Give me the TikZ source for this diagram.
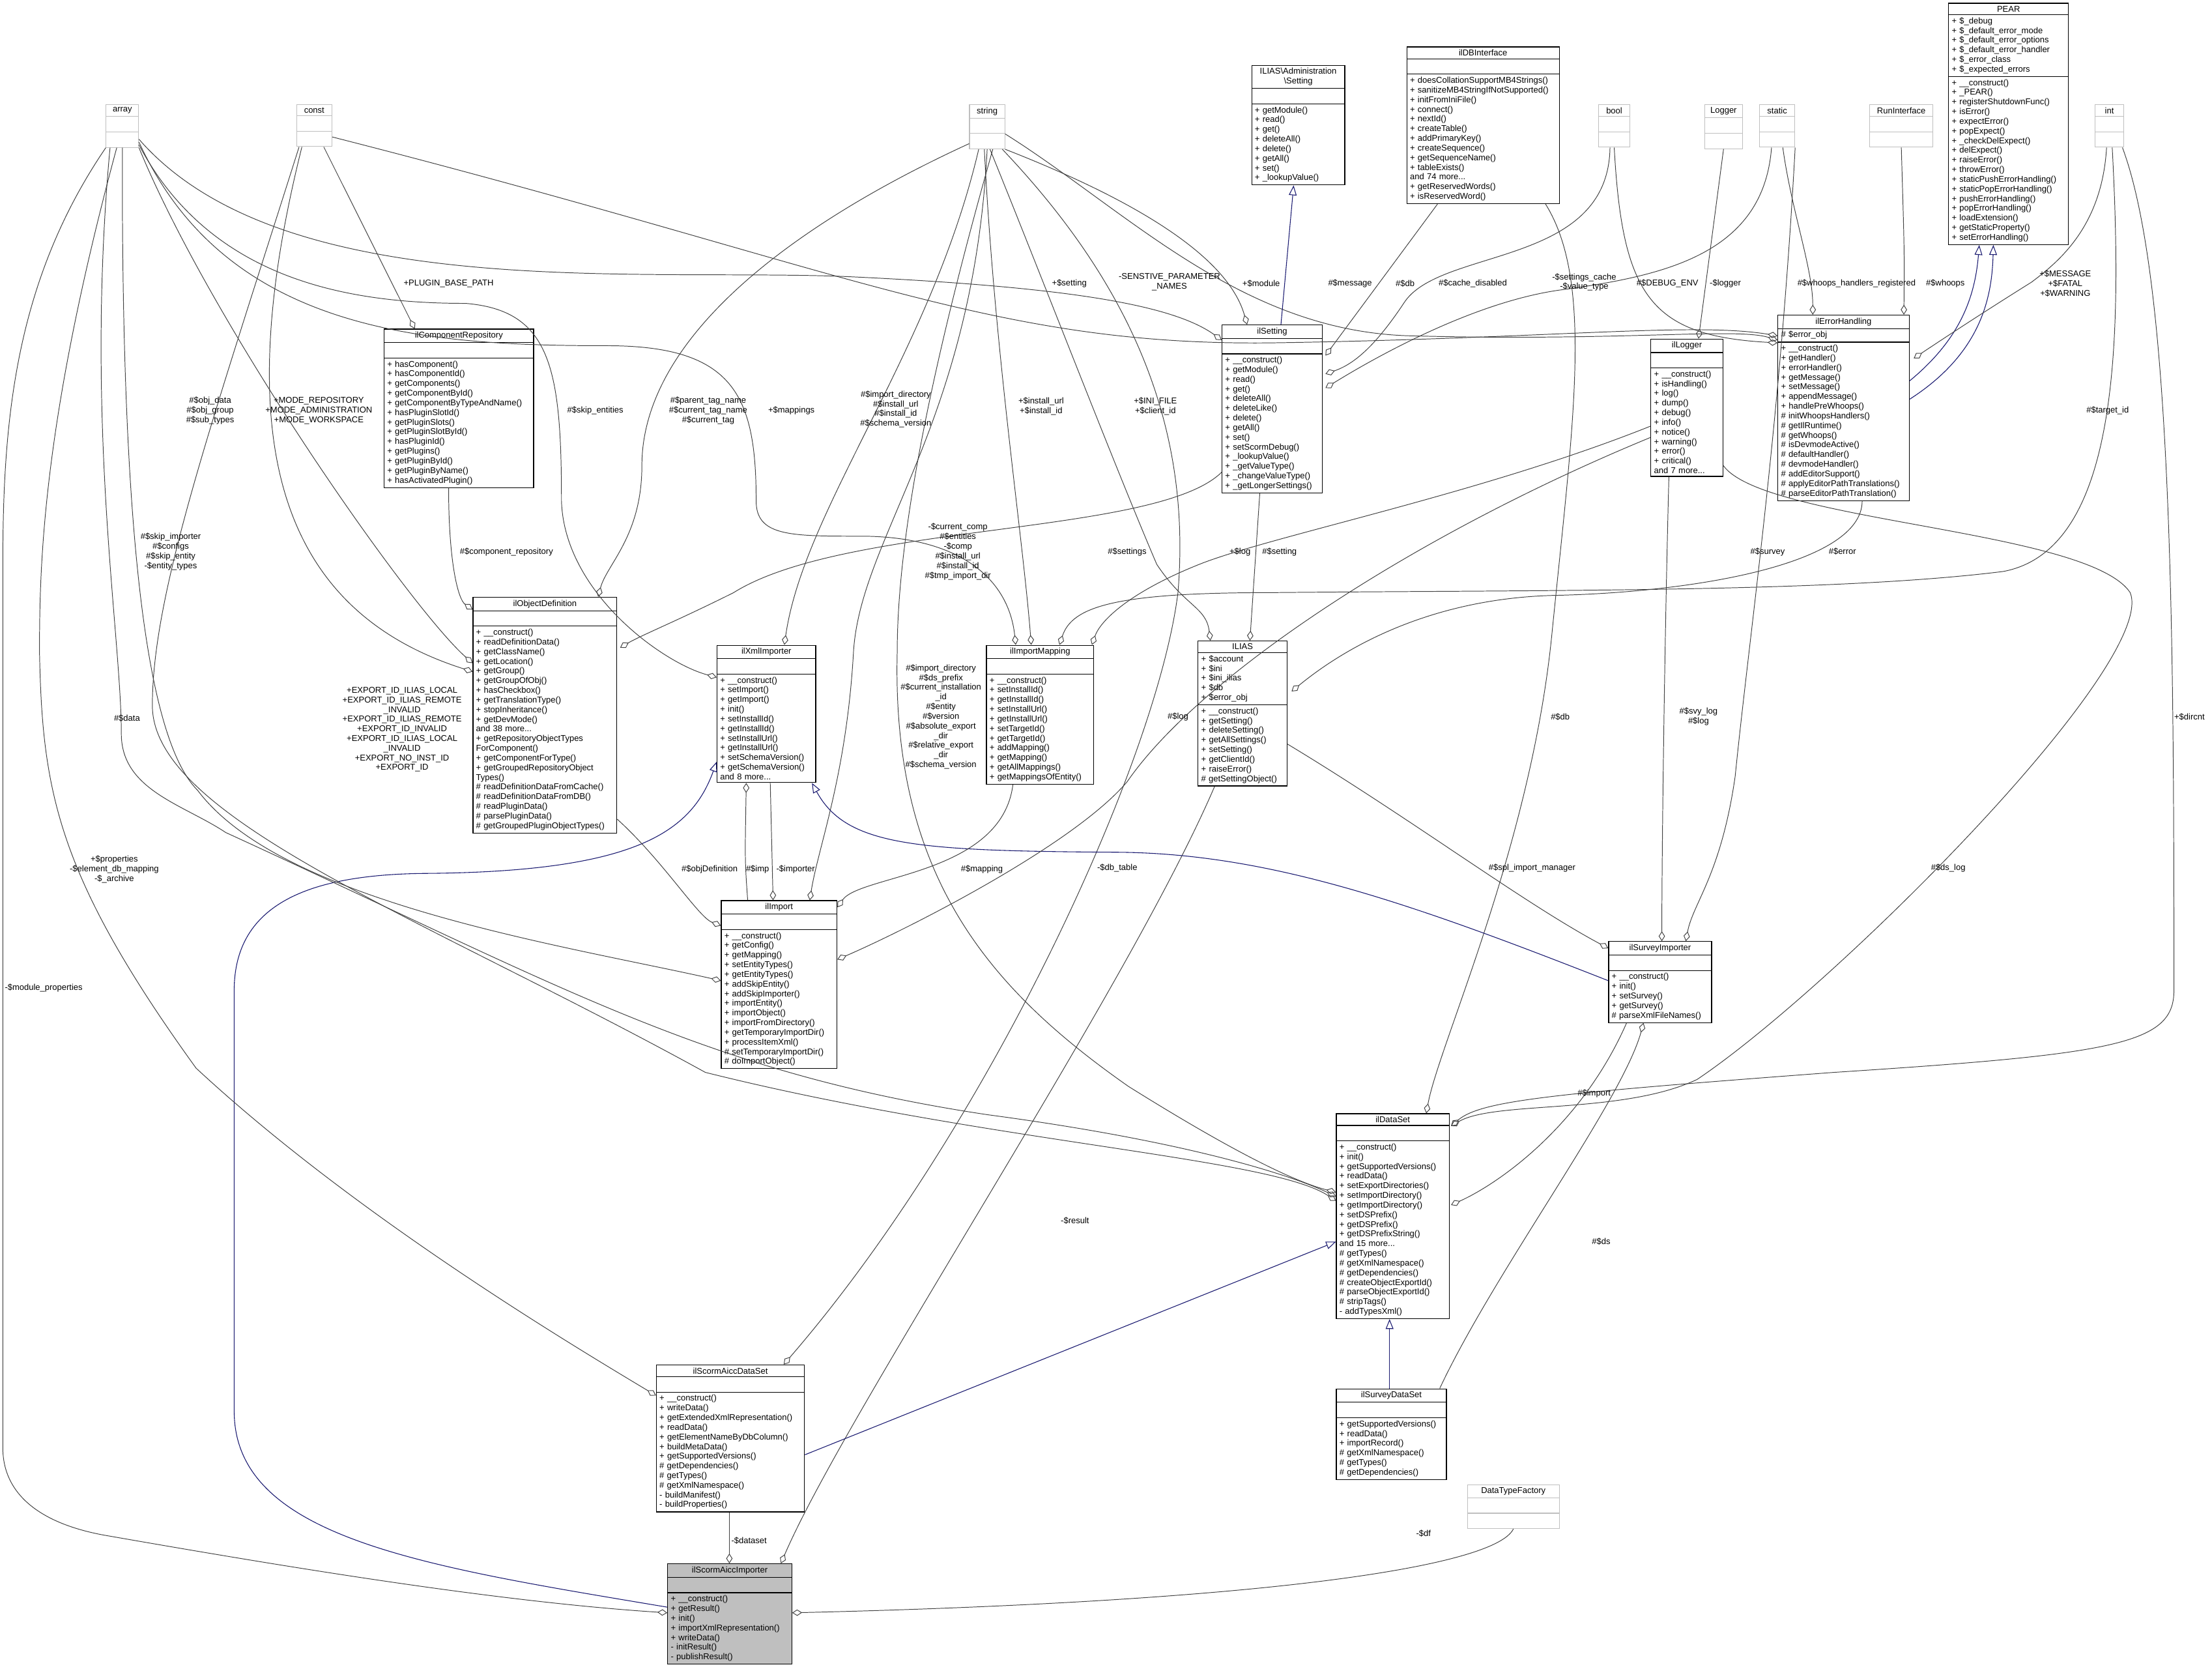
\documentclass[tikz,border=0pt]{standalone}
\usepackage{fontspec}
\setmainfont{Liberation Sans}
\usetikzlibrary{shapes.multipart,arrows.meta,calc}
\definecolor{navy}{HTML}{191970}
\definecolor{edgec}{HTML}{404040}
\newcommand\emptycomp{\rule{0pt}{7pt}}
\newcommand\hd[1]{\makebox[\linewidth][c]{#1}}
\tikzset{
 cls/.style={rectangle split, rectangle split parts=3, draw=black, line width=0.55pt, anchor=north west,
   inner xsep=2.2pt, inner ysep=1.7pt, font=\fontsize{6}{6.85}\selectfont, text width=#1pt-4.4pt, align=left},
 typ/.style={cls=#1, draw=gray!50, line width=0.5pt},
 agg/.style={draw=edgec, line width=0.45pt, -{Diamond[open,length=7pt,width=4.5pt]}},
 inh/.style={draw=navy, line width=0.5pt, -{Triangle[open,length=7pt,width=5.5pt]}},
 lbl/.style={font=\fontsize{6}{6.85}\selectfont, align=center, inner sep=0pt}
}
\begin{document}
\begin{tikzpicture}[x=1pt,y=-1pt]
\useasboundingbox (0,0) rectangle (1568,1181);
% type boxes
\node[typ=23] (array) at (75,74) {\hd{array}\nodepart{two}\emptycomp\nodepart{three}\emptycomp};
\node[typ=25] (const) at (210,74) {\hd{const}\nodepart{two}\emptycomp\nodepart{three}\emptycomp};
\node[typ=25] (string) at (687,74) {\hd{string}\nodepart{two}\emptycomp\nodepart{three}\emptycomp};
\node[typ=22] (bool) at (1133,74) {\hd{bool}\nodepart{two}\emptycomp\nodepart{three}\emptycomp};
\node[typ=27] (Logger) at (1208,74) {\hd{Logger}\nodepart{two}\emptycomp\nodepart{three}\emptycomp};
\node[typ=25] (static) at (1247,74) {\hd{static}\nodepart{two}\emptycomp\nodepart{three}\emptycomp};
\node[typ=45] (RunInterface) at (1325,74) {\hd{RunInterface}\nodepart{two}\emptycomp\nodepart{three}\emptycomp};
\node[typ=20] (int) at (1485,74) {\hd{int}\nodepart{two}\emptycomp\nodepart{three}\emptycomp};
\node[typ=65] (DataTypeFactory) at (1040,1052) {\hd{DataTypeFactory}\nodepart{two}\emptycomp\nodepart{three}\emptycomp};
% classes
\node[cls=66] (admin) at (887,46) {\hd{ILIAS\textbackslash{}Administration}\\\hd{\textbackslash{}Setting}\nodepart{two}\emptycomp\nodepart{three}+ getModule()\\+ read()\\+ get()\\+ deleteAll()\\+ delete()\\+ getAll()\\+ set()\\+ \_lookupValue()};
\node[cls=108] (ilDBInterface) at (997,33) {\hd{ilDBInterface}\nodepart{two}\emptycomp\nodepart{three}+ doesCollationSupportMB4Strings()\\+ sanitizeMB4StringIfNotSupported()\\+ initFromIniFile()\\+ connect()\\+ nextId()\\+ createTable()\\+ addPrimaryKey()\\+ createSequence()\\+ getSequenceName()\\+ tableExists()\\and 74 more...\\+ getReservedWords()\\+ isReservedWord()};
\node[cls=85] (PEAR) at (1381,2) {\hd{PEAR}\nodepart{two}+ \$\_debug\\+ \$\_default\_error\_mode\\+ \$\_default\_error\_options\\+ \$\_default\_error\_handler\\+ \$\_error\_class\\+ \$\_expected\_errors\nodepart{three}+ \_\_construct()\\+ \_PEAR()\\+ registerShutdownFunc()\\+ isError()\\+ expectError()\\+ popExpect()\\+ \_checkDelExpect()\\+ delExpect()\\+ raiseError()\\+ throwError()\\+ staticPushErrorHandling()\\+ staticPopErrorHandling()\\+ pushErrorHandling()\\+ popErrorHandling()\\+ loadExtension()\\+ getStaticProperty()\\+ setErrorHandling()};
\node[cls=93] (ilErrorHandling) at (1260,223) {\hd{ilErrorHandling}\nodepart{two}\# \$error\_obj\nodepart{three}+ \_\_construct()\\+ getHandler()\\+ errorHandler()\\+ getMessage()\\+ setMessage()\\+ appendMessage()\\+ handlePreWhoops()\\\# initWhoopsHandlers()\\\# getIlRuntime()\\\# getWhoops()\\\# isDevmodeActive()\\\# defaultHandler()\\\# devmodeHandler()\\\# addEditorSupport()\\\# applyEditorPathTranslations()\\\# parseEditorPathTranslation()};
\node[cls=51] (ilLogger) at (1170,240) {\hd{ilLogger}\nodepart{two}\emptycomp\nodepart{three}+ \_\_construct()\\+ isHandling()\\+ log()\\+ dump()\\+ debug()\\+ info()\\+ notice()\\+ warning()\\+ error()\\+ critical()\\and 7 more...};
\node[cls=71] (ilSetting) at (866,230) {\hd{ilSetting}\nodepart{two}\emptycomp\nodepart{three}+ \_\_construct()\\+ getModule()\\+ read()\\+ get()\\+ deleteAll()\\+ deleteLike()\\+ delete()\\+ getAll()\\+ set()\\+ setScormDebug()\\+ \_lookupValue()\\+ \_getValueType()\\+ \_changeValueType()\\+ \_getLongerSettings()};
\node[cls=106] (ilComponentRepository) at (272,233) {\hd{ilComponentRepository}\nodepart{two}\emptycomp\nodepart{three}+ hasComponent()\\+ hasComponentId()\\+ getComponents()\\+ getComponentById()\\+ getComponentByTypeAndName()\\+ hasPluginSlotId()\\+ getPluginSlots()\\+ getPluginSlotById()\\+ hasPluginId()\\+ getPlugins()\\+ getPluginById()\\+ getPluginByName()\\+ hasActivatedPlugin()};
\node[cls=102] (ilObjectDefinition) at (335,423) {\hd{ilObjectDefinition}\nodepart{two}\emptycomp\nodepart{three}+ \_\_construct()\\+ readDefinitionData()\\+ getClassName()\\+ getLocation()\\+ getGroup()\\+ getGroupOfObj()\\+ hasCheckbox()\\+ getTranslationType()\\+ stopInheritance()\\+ getDevMode()\\and 38 more...\\+ getRepositoryObjectTypes\\ForComponent()\\+ getComponentForType()\\+ getGroupedRepositoryObject\\Types()\\\# readDefinitionDataFromCache()\\\# readDefinitionDataFromDB()\\\# readPluginData()\\\# parsePluginData()\\\# getGroupedPluginObjectTypes()};
\node[cls=70] (ilXmlImporter) at (508,457) {\hd{ilXmlImporter}\nodepart{two}\emptycomp\nodepart{three}+ \_\_construct()\\+ setImport()\\+ getImport()\\+ init()\\+ setInstallId()\\+ getInstallId()\\+ setInstallUrl()\\+ getInstallUrl()\\+ setSchemaVersion()\\+ getSchemaVersion()\\and 8 more...};
\node[cls=76] (ilImportMapping) at (699,457) {\hd{ilImportMapping}\nodepart{two}\emptycomp\nodepart{three}+ \_\_construct()\\+ setInstallId()\\+ getInstallId()\\+ setInstallUrl()\\+ getInstallUrl()\\+ setTargetId()\\+ getTargetId()\\+ addMapping()\\+ getMapping()\\+ getAllMappings()\\+ getMappingsOfEntity()};
\node[cls=63] (ILIAS) at (849,454) {\hd{ILIAS}\nodepart{two}+ \$account\\+ \$ini\\+ \$ini\_ilias\\+ \$db\\+ \$error\_obj\nodepart{three}+ \_\_construct()\\+ getSetting()\\+ deleteSetting()\\+ getAllSettings()\\+ setSetting()\\+ getClientId()\\+ raiseError()\\\# getSettingObject()};
\node[cls=82] (ilImport) at (511,638) {\hd{ilImport}\nodepart{two}\emptycomp\nodepart{three}+ \_\_construct()\\+ getConfig()\\+ getMapping()\\+ setEntityTypes()\\+ getEntityTypes()\\+ addSkipEntity()\\+ addSkipImporter()\\+ importEntity()\\+ importObject()\\+ importFromDirectory()\\+ getTemporaryImportDir()\\+ processItemXml()\\\# setTemporaryImportDir()\\\# doImportObject()};
\node[cls=73] (ilSurveyImporter) at (1140,667) {\hd{ilSurveyImporter}\nodepart{two}\emptycomp\nodepart{three}+ \_\_construct()\\+ init()\\+ setSurvey()\\+ getSurvey()\\\# parseXmlFileNames()};
\node[cls=80] (ilDataSet) at (947,789) {\hd{ilDataSet}\nodepart{two}\emptycomp\nodepart{three}+ \_\_construct()\\+ init()\\+ getSupportedVersions()\\+ readData()\\+ setExportDirectories()\\+ setImportDirectory()\\+ getImportDirectory()\\+ setDSPrefix()\\+ getDSPrefix()\\+ getDSPrefixString()\\and 15 more...\\\# getTypes()\\\# getXmlNamespace()\\\# getDependencies()\\\# createObjectExportId()\\\# parseObjectExportId()\\\# stripTags()\\- addTypesXml()};
\node[cls=78] (ilSurveyDataSet) at (947,984) {\hd{ilSurveyDataSet}\nodepart{two}\emptycomp\nodepart{three}+ getSupportedVersions()\\+ readData()\\+ importRecord()\\\# getXmlNamespace()\\\# getTypes()\\\# getDependencies()};
\node[cls=105] (ilScormAiccDataSet) at (465,967) {\hd{ilScormAiccDataSet}\nodepart{two}\emptycomp\nodepart{three}+ \_\_construct()\\+ writeData()\\+ getExtendedXmlRepresentation()\\+ readData()\\+ getElementNameByDbColumn()\\+ buildMetaData()\\+ getSupportedVersions()\\\# getDependencies()\\\# getTypes()\\\# getXmlNamespace()\\- buildManifest()\\- buildProperties()};
\node[cls=88, fill=gray!50] (ilScormAiccImporter) at (473,1108) {\hd{ilScormAiccImporter}\nodepart{two}\emptycomp\nodepart{three}+ \_\_construct()\\+ getResult()\\+ init()\\+ importXmlRepresentation()\\+ writeData()\\- initResult()\\- publishResult()};

% edges
\draw[agg] (array.south east) .. controls (150,230) and (290,430) .. ($(ilObjectDefinition.north west)+(0,47)$);
\draw[agg] ($(const.south west)+(4,0)$) .. controls (165,300) and (190,430) .. ($(ilObjectDefinition.north west)+(0,53)$);
\draw[agg] ($(const.south east)+(-6,0)$) -- ($(ilComponentRepository.north west)+(22,0)$);
\draw[agg] ($(ilComponentRepository.south west)+(46,0)$) .. controls (318,400) and (325,425) .. ($(ilObjectDefinition.north west)+(0,9)$);
\draw[agg] ($(string.south west)+(0,-4)$) .. controls (560,160) and (455,240) .. (455,330) .. controls (455,380) and (430,400) .. ($(ilObjectDefinition.north west)+(89,0)$);
\draw[agg] ($(array.south east)+(0,-2)$) .. controls (150,200) and (250,215) .. (330,215) .. controls (390,220) and (398,260) .. (398,355) .. controls (400,420) and (470,470) .. ($(ilXmlImporter.north west)+(0,23)$);
\draw[agg] ($(array.south east)+(0,-4)$) .. controls (160,235) and (300,245) .. (430,245) .. controls (520,245) and (536,280) .. (536,355) .. controls (536,380) and (560,380) .. (610,380) .. controls (680,380) and (715,410) .. ($(ilImportMapping.north west)+(21,0)$);
\draw[agg] ($(array.south east)+(0,-6)$) .. controls (200,215) and (450,190) .. (600,196) .. controls (750,203) and (830,215) .. ($(ilSetting.north west)+(0,11)$);
\draw[agg] ($(const.east)+(0,8)$) .. controls (600,190) and (700,245) .. (900,243) .. controls (1100,240) and (1200,228) .. ($(ilErrorHandling.north west)+(0,15)$);
\draw[agg] ($(string.east)+(0,5)$) .. controls (800,150) and (880,235) .. (1000,238) .. controls (1150,242) and (1230,232) .. ($(ilErrorHandling.north west)+(0,18)$);
\draw[agg] (bool.south) .. controls (1150,210) and (1170,238) .. ($(ilErrorHandling.north west)+(0,20)$);
\draw[agg] ($(bool.south)+(-3,0)$) .. controls (1140,190) and (1020,175) .. (995,215) .. controls (975,245) and (960,258) .. ($(ilSetting.north east)+(2,35)$);
\draw[agg] ($(ilDBInterface.south west)+(22,0)$) -- ($(ilSetting.north east)+(2,22)$);
\draw[agg] ($(static.south)+(-4,0)$) .. controls (1250,180) and (1180,195) .. (1110,205) .. controls (1050,212) and (980,250) .. ($(ilSetting.north east)+(2,45)$);
\draw[agg] ($(static.south)+(4,0)$) .. controls (1270,150) and (1285,190) .. ($(ilErrorHandling.north west)+(25,0)$);
\draw[agg] (Logger.south) -- ($(ilLogger.north west)+(34,0)$);
\draw[agg] (RunInterface.south) .. controls (1350,180) .. ($(ilErrorHandling.north east)+(-4,0)$);
\draw[inh] ($(ilErrorHandling.north east)+(0,47)$) .. controls (1390,240) and (1400,210) .. ($(PEAR.south west)+(22,0)$);
\draw[inh] ($(ilErrorHandling.north east)+(0,60)$) .. controls (1405,250) and (1412,210) .. ($(PEAR.south west)+(32,0)$);
\draw[agg] ($(int.south)+(-2,0)$) .. controls (1490,160) and (1460,185) .. (1440,200) .. controls (1400,225) and (1370,245) .. ($(ilErrorHandling.north east)+(3,31)$);
\draw[agg] ($(int.south)+(2,0)$) .. controls (1505,250) and (1500,390) .. (1420,405) .. controls (1300,420) and (1100,418) .. (900,420) .. controls (790,420) and (760,430) .. ($(ilImportMapping.north west)+(52,0)$);
\draw[agg] ($(int.south east)+(-1,0)$) .. controls (1540,200) and (1541,450) .. (1541,702) .. controls (1541,740) and (1500,747) .. (1300,760) .. controls (1100,775) and (1050,780) .. ($(ilDataSet.north east)+(1,9)$);
\draw[agg] ($(ilLogger.south east)+(0,-8)$) .. controls (1250,370) and (1480,375) .. (1510,420) .. controls (1530,470) and (1300,700) .. (1203,765) .. controls (1150,790) and (1060,780) .. ($(ilDataSet.north east)+(1,9)$);
\draw[agg] ($(ilDBInterface.south east)+(-10,0)$) .. controls (1130,200) and (1115,300) .. (1100,450) .. controls (1085,600) and (1020,740) .. ($(ilDataSet.north west)+(64,0)$);
\draw[inh] ($(ilSetting.north west)+(42,0)$) -- ($(admin.south west)+(30,0)$);
\draw[agg] (string.south east) .. controls (800,140) and (870,180) .. ($(ilSetting.north west)+(18,0)$);
\draw[agg] ($(string.south)+(-6,0)$) .. controls (660,250) and (570,360) .. ($(ilXmlImporter.north west)+(48,0)$);
\draw[agg] ($(string.south)+(-2,0)$) .. controls (705,250) and (725,380) .. ($(ilImportMapping.north west)+(32,0)$);
\draw[agg] ($(string.south)+(2,0)$) .. controls (740,200) and (790,330) .. (820,400) .. controls (840,430) and (855,430) .. ($(ILIAS.north west)+(9,0)$);
\draw[agg] (string.south) .. controls (690,300) and (610,380) .. (605,462) .. controls (600,550) and (580,600) .. ($(ilImport.north west)+(63,0)$);
\draw[agg] ($(string.south)+(4,0)$) .. controls (660,260) and (636,380) .. (636,462) .. controls (632,620) and (700,700) .. (800,770) .. controls (880,820) and (920,838) .. ($(ilDataSet.north west)+(0,56)$);
\draw[agg] ($(string.south east)+(-2,0)$) .. controls (800,200) and (845,300) .. (835,420) .. controls (820,540) and (700,800) .. ($(ilScormAiccDataSet.north east)+(-15,0)$);
\draw[agg] ($(ILIAS.south west)+(12,0)$) .. controls (800,700) and (600,1000) .. ($(ilScormAiccImporter.north east)+(-8,0)$);
\draw[agg] ($(ILIAS.south east)+(0,-30)$) .. controls (1000,580) and (1080,640) .. ($(ilSurveyImporter.north west)+(0,5)$);
\draw[agg] ($(ilSetting.south west)+(27,0)$) -- ($(ILIAS.north west)+(37,0)$);
\draw[agg] ($(ilLogger.south west)+(13,0)$) .. controls (1180,450) and (1178,600) .. ($(ilSurveyImporter.north west)+(38,0)$);
\draw[agg] (static.south east) .. controls (1262,300) and (1240,450) .. (1230,550) .. controls (1220,620) and (1200,640) .. ($(ilSurveyImporter.north west)+(55,0)$);
\draw[inh] ($(ilSurveyImporter.north west)+(0,28)$) .. controls (1000,640) and (900,605) .. (793,604) .. controls (650,603) and (600,600) .. ($(ilXmlImporter.south east)+(-3,0)$);
\draw[inh] ($(ilScormAiccImporter.north west)+(0,31)$) .. controls (300,1110) and (166,1090) .. (166,1000) -- (166,702) .. controls (166,640) and (220,620) .. (300,619) .. controls (450,618) and (490,590) .. ($(ilXmlImporter.south west)+(0,-15)$);
\draw[agg] ($(ilSurveyImporter.south west)+(13,0)$) .. controls (1120,800) and (1060,840) .. ($(ilDataSet.north east)+(1,65)$);
\draw[agg] ($(ilSurveyDataSet.north east)+(-5,0)$) .. controls (1060,900) and (1150,780) .. ($(ilSurveyImporter.south west)+(25,0)$);
\draw[inh] ($(ilSurveyDataSet.north west)+(38,0)$) -- ($(ilDataSet.south west)+(38,0)$);
\draw[inh] ($(ilScormAiccDataSet.north east)+(0,64)$) -- ($(ilDataSet.north west)+(0,91)$);
\draw[agg] ($(ilScormAiccDataSet.south west)+(52,0)$) -- ($(ilScormAiccImporter.north west)+(44,0)$);
\draw[agg] (DataTypeFactory.south) .. controls (1060,1110) and (900,1135) .. ($(ilScormAiccImporter.north east)+(0,35)$);
\draw[agg] ($(ilImportMapping.south west)+(19,0)$) .. controls (710,620) and (610,620) .. ($(ilImport.north east)+(0,5)$);
\draw[agg] ($(ilObjectDefinition.south east)+(0,-10)$) .. controls (470,610) and (495,650) .. ($(ilImport.north west)+(0,18)$);
\draw[agg] ($(ilImport.north west)+(19,0)$) .. controls (528,610) .. ($(ilXmlImporter.south west)+(21,0)$);
\draw[agg] ($(ilXmlImporter.south west)+(38,0)$) -- ($(ilImport.north west)+(37,0)$);
\draw[agg] ($(ilLogger.north west)+(0,70)$) .. controls (1000,380) and (850,480) .. (799,554) .. controls (760,600) and (640,660) .. ($(ilImport.north east)+(0,42)$);
\draw[agg] ($(ilErrorHandling.south west)+(60,0)$) .. controls (1320,400) and (1200,420) .. (1100,422) .. controls (1000,425) and (940,470) .. ($(ILIAS.north east)+(3,36)$);
\draw[agg] ($(ilLogger.north west)+(0,62)$) .. controls (1050,350) and (900,380) .. (850,400) .. controls (800,420) and (780,440) .. ($(ilImportMapping.north west)+(75,0)$);
\draw[agg] ($(ilSetting.south west)+(0,-15)$) .. controls (820,380) and (600,370) .. (520,420) .. controls (480,440) and (455,450) .. ($(ilObjectDefinition.north east)+(2,36)$);
\draw[agg] ($(array.south west)+(3,0)$) .. controls (60,300) and (86,450) .. (86,520) .. controls (86,560) and (130,570) .. (160,590) .. controls (400,700) and (500,760) .. (700,790) .. controls (850,810) and (920,835) .. ($(ilDataSet.north west)+(0,59)$);
\draw[agg] ($(const.south west)+(2,0)$) .. controls (150,300) and (108,420) .. (108,500) .. controls (108,580) and (300,650) .. (500,760) .. controls (700,810) and (900,820) .. ($(ilDataSet.north west)+(0,62)$);
\draw[agg] (array.south) .. controls (86,350) and (100,520) .. (140,560) .. controls (200,640) and (400,670) .. ($(ilImport.north west)+(0,57)$);
\draw[agg] ($(array.south)+(-4,0)$) .. controls (30,300) and (28,400) .. (28,462) .. controls (30,560) and (40,620) .. (139,757) .. controls (250,860) and (400,950) .. ($(ilScormAiccDataSet.north west)+(0,22)$);
\draw[agg] (array.south west) .. controls (10,200) and (2,300) .. (2,400) -- (2,1026) .. controls (2,1060) and (30,1080) .. (74,1088) .. controls (200,1110) and (350,1135) .. ($(ilScormAiccImporter.north west)+(0,35)$);

% labels
\node[lbl] (l1) at (149,291) {\#\$obj\_data\\\#\$obj\_group\\\#\$sub\_types};
\node[lbl] (l2) at (226,291) {+MODE\_REPOSITORY\\+MODE\_ADMINISTRATION\\+MODE\_WORKSPACE};
\node[lbl] (l3) at (318,201) {+PLUGIN\_BASE\_PATH};
\node[lbl] (l4) at (359,391) {\#\$component\_repository};
\node[lbl] (l5) at (502,291) {\#\$parent\_tag\_name\\\#\$current\_tag\_name\\\#\$current\_tag};
\node[lbl] (l6) at (422,291) {\#\$skip\_entities};
\node[lbl] (l7) at (561,291) {+\$mappings};
\node[lbl] (l8) at (758,201) {+\$setting};
\node[lbl] (l9) at (829,200) {-SENSTIVE\_PARAMETER\\\_NAMES};
\node[lbl] (l10) at (894,201) {+\$module};
\node[lbl] (l11) at (957,201) {\#\$message};
\node[lbl] (l12) at (996,201) {\#\$db};
\node[lbl] (l13) at (1044,201) {\#\$cache\_disabled};
\node[lbl] (l14) at (1123,200) {-\$settings\_cache\\-\$value\_type};
\node[lbl] (l15) at (1182,201) {\#\$DEBUG\_ENV};
\node[lbl] (l16) at (1223,201) {-\$logger};
\node[lbl] (l17) at (1316,201) {\#\$whoops\_handlers\_registered};
\node[lbl] (l18) at (1379,201) {\#\$whoops};
\node[lbl] (l19) at (1464,201) {+\$MESSAGE\\+\$FATAL\\+\$WARNING};
\node[lbl] (l20) at (1494,291) {\#\$target\_id};
\node[lbl] (l21) at (635,290) {\#\$import\_directory\\\#\$install\_url\\\#\$install\_id\\\#\$schema\_version};
\node[lbl] (l22) at (738,288) {+\$install\_url\\+\$install\_id};
\node[lbl] (l23) at (819,288) {+\$INI\_FILE\\+\$client\_id};
\node[lbl] (l24) at (679,391) {-\$current\_comp\\\#\$entities\\-\$comp\\\#\$install\_url\\\#\$install\_id\\\#\$tmp\_import\_dir};
\node[lbl] (l25) at (799,391) {\#\$settings};
\node[lbl] (l26) at (879,391) {+\$log};
\node[lbl] (l27) at (907,391) {\#\$setting};
\node[lbl] (l28) at (1253,391) {\#\$survey};
\node[lbl] (l29) at (1306,391) {\#\$error};
\node[lbl] (l30) at (667,508) {\#\$import\_directory\\\#\$ds\_prefix\\\#\$current\_installation\\\_id\\\#\$entity\\\#\$version\\\#\$absolute\_export\\\_dir\\\#\$relative\_export\\\_dir\\\#\$schema\_version};
\node[lbl] (l31) at (835,508) {\#\$log};
\node[lbl] (l32) at (1106,508) {\#\$db};
\node[lbl] (l33) at (1204,508) {\#\$svy\_log\\\#\$log};
\node[lbl] (l34) at (1552,508) {+\$dircnt};
\node[lbl] (l35) at (285,517) {+EXPORT\_ID\_ILIAS\_LOCAL\\+EXPORT\_ID\_ILIAS\_REMOTE\\\_INVALID\\+EXPORT\_ID\_ILIAS\_REMOTE\\+EXPORT\_ID\_INVALID\\+EXPORT\_ID\_ILIAS\_LOCAL\\\_INVALID\\+EXPORT\_NO\_INST\_ID\\+EXPORT\_ID};
\node[lbl] (l36) at (90,509) {\#\$data};
\node[lbl] (l37) at (121,391) {\#\$skip\_importer\\\#\$configs\\\#\$skip\_entity\\-\$entity\_types};
\node[lbl] (l38) at (81,616) {+\$properties\\-\$element\_db\_mapping\\-\$\_archive};
\node[lbl] (l39) at (31,700) {-\$module\_properties};
\node[lbl] (l40) at (503,616) {\#\$objDefinition};
\node[lbl] (l41) at (537,616) {\#\$imp};
\node[lbl] (l42) at (564,616) {-\$importer};
\node[lbl] (l43) at (696,616) {\#\$mapping};
\node[lbl] (l44) at (792,615) {-\$db\_table};
\node[lbl] (l45) at (1086,615) {\#\$spl\_import\_manager};
\node[lbl] (l46) at (1381,615) {\#\$ds\_log};
\node[lbl] (l47) at (1130,775) {\#\$import};
\node[lbl] (l48) at (762,865) {-\$result};
\node[lbl] (l49) at (1135,880) {\#\$ds};
\node[lbl] (l50) at (531,1092) {-\$dataset};
\node[lbl] (l51) at (1009,1087) {-\$df};
\end{tikzpicture}
\end{document}
